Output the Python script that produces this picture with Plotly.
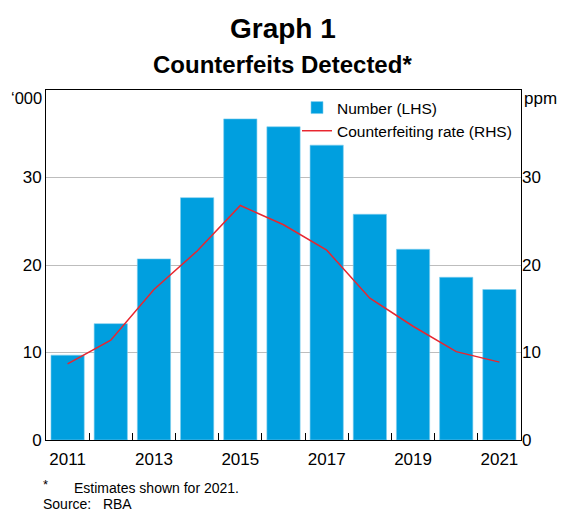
import plotly.graph_objects as go

years = [2011, 2012, 2013, 2014, 2015, 2016, 2017, 2018, 2019, 2020, 2021]
number_thousands = [9.7, 13.3, 20.7, 27.7, 36.7, 35.8, 33.7, 25.8, 21.8, 18.6, 17.2]
rate_ppm = [8.7, 11.4, 17.2, 21.6, 26.8, 24.6, 21.7, 16.2, 13.0, 10.1, 8.9]
x_tick_labels = [2011, 2013, 2015, 2017, 2019, 2021]
y_ticks = [0, 10, 20, 30]

FONT = "Liberation Sans, Arial, sans-serif"
BLUE = "#009FDF"
RED = "#E8262F"

W, H = 562, 513
L, R, T, B = 46, 41, 90, 73
pw, ph = W - L - R, H - T - B


def px(x):
    return (x - L) / pw


def py(y):
    return (H - B - y) / ph


fig = go.Figure()
fig.add_trace(go.Bar(
    x=years, y=number_thousands, name="Number (LHS)",
    marker=dict(color=BLUE, line=dict(color="#7FCFEF", width=0.6)),
    width=0.77, yaxis="y",
))
fig.add_trace(go.Scatter(
    x=years, y=rate_ppm, name="Counterfeiting rate (RHS)",
    mode="lines", line=dict(color=RED, width=1.5), yaxis="y2",
))

fig.update_layout(
    width=W, height=H,
    margin=dict(l=L, r=R, t=T, b=B),
    paper_bgcolor="white", plot_bgcolor="white",
    font=dict(family=FONT, color="black", size=17),
    showlegend=True,
    legend=dict(
        x=px(297), y=py(91), xanchor="left", yanchor="top",
        bgcolor="rgba(0,0,0,0)", font=dict(size=15.5, family=FONT),
        itemwidth=30, tracegroupgap=0, traceorder="normal",
    ),
    xaxis=dict(
        range=[2010.5, 2021.5],
        tickmode="array", tickvals=x_tick_labels,
        ticktext=[str(v) for v in x_tick_labels],
        ticks="", showgrid=False,
        showline=True, linecolor="black", linewidth=1, mirror=True,
        minor=dict(tickmode="array",
                   tickvals=[y + 0.5 for y in years[:-1]],
                   ticks="inside", ticklen=7, tickcolor="black", tickwidth=1,
                   showgrid=False),
        tickfont=dict(size=17), ticklabelstandoff=4,
        zeroline=False,
    ),
    yaxis=dict(
        range=[0, 40], tickmode="array", tickvals=y_ticks,
        showgrid=True, gridcolor="#BDBDBD", gridwidth=1,
        showline=True, linecolor="black", linewidth=1, mirror=True,
        ticks="", tickfont=dict(size=17), zeroline=False,
    ),
    yaxis2=dict(
        range=[0, 40], tickmode="array", tickvals=y_ticks,
        overlaying="y", side="right", showgrid=False,
        showline=False, ticks="", tickfont=dict(size=17), zeroline=False,
    ),
    annotations=[
        dict(text="<b>Graph 1</b>", x=px(283), y=py(29), xref="paper",
             yref="paper", xanchor="center", yanchor="middle",
             showarrow=False, font=dict(size=28)),
        dict(text="<b>Counterfeits Detected*</b>", x=px(282), y=py(64),
             xref="paper", yref="paper", xanchor="center", yanchor="middle",
             showarrow=False, font=dict(size=24)),
        dict(text="‘000", x=0, y=40, xref="paper", yref="y", xanchor="right",
             yanchor="top", showarrow=False, font=dict(size=16.5),
             xshift=-2, yshift=3),
        dict(text="ppm", x=1, y=40, xref="paper", yref="y", xanchor="left",
             yanchor="top", showarrow=False, font=dict(size=17),
             xshift=1, yshift=3),
        dict(text="*", x=px(45), y=py(484), xref="paper", yref="paper",
             xanchor="center", yanchor="middle", showarrow=False,
             font=dict(size=13)),
        dict(text="Estimates shown for 2021.", x=px(72), y=py(488),
             xref="paper", yref="paper", xanchor="left", yanchor="middle",
             showarrow=False, font=dict(size=14)),
        dict(text="Source:\u00a0\u00a0\u00a0RBA", x=px(41), y=py(504),
             xref="paper", yref="paper", xanchor="left", yanchor="middle",
             showarrow=False, font=dict(size=14)),
    ],
)

fig.write_html("out.html", config={"displayModeBar": False},
               post_script="document.body.style.margin='0';document.body.style.overflow='hidden';")
